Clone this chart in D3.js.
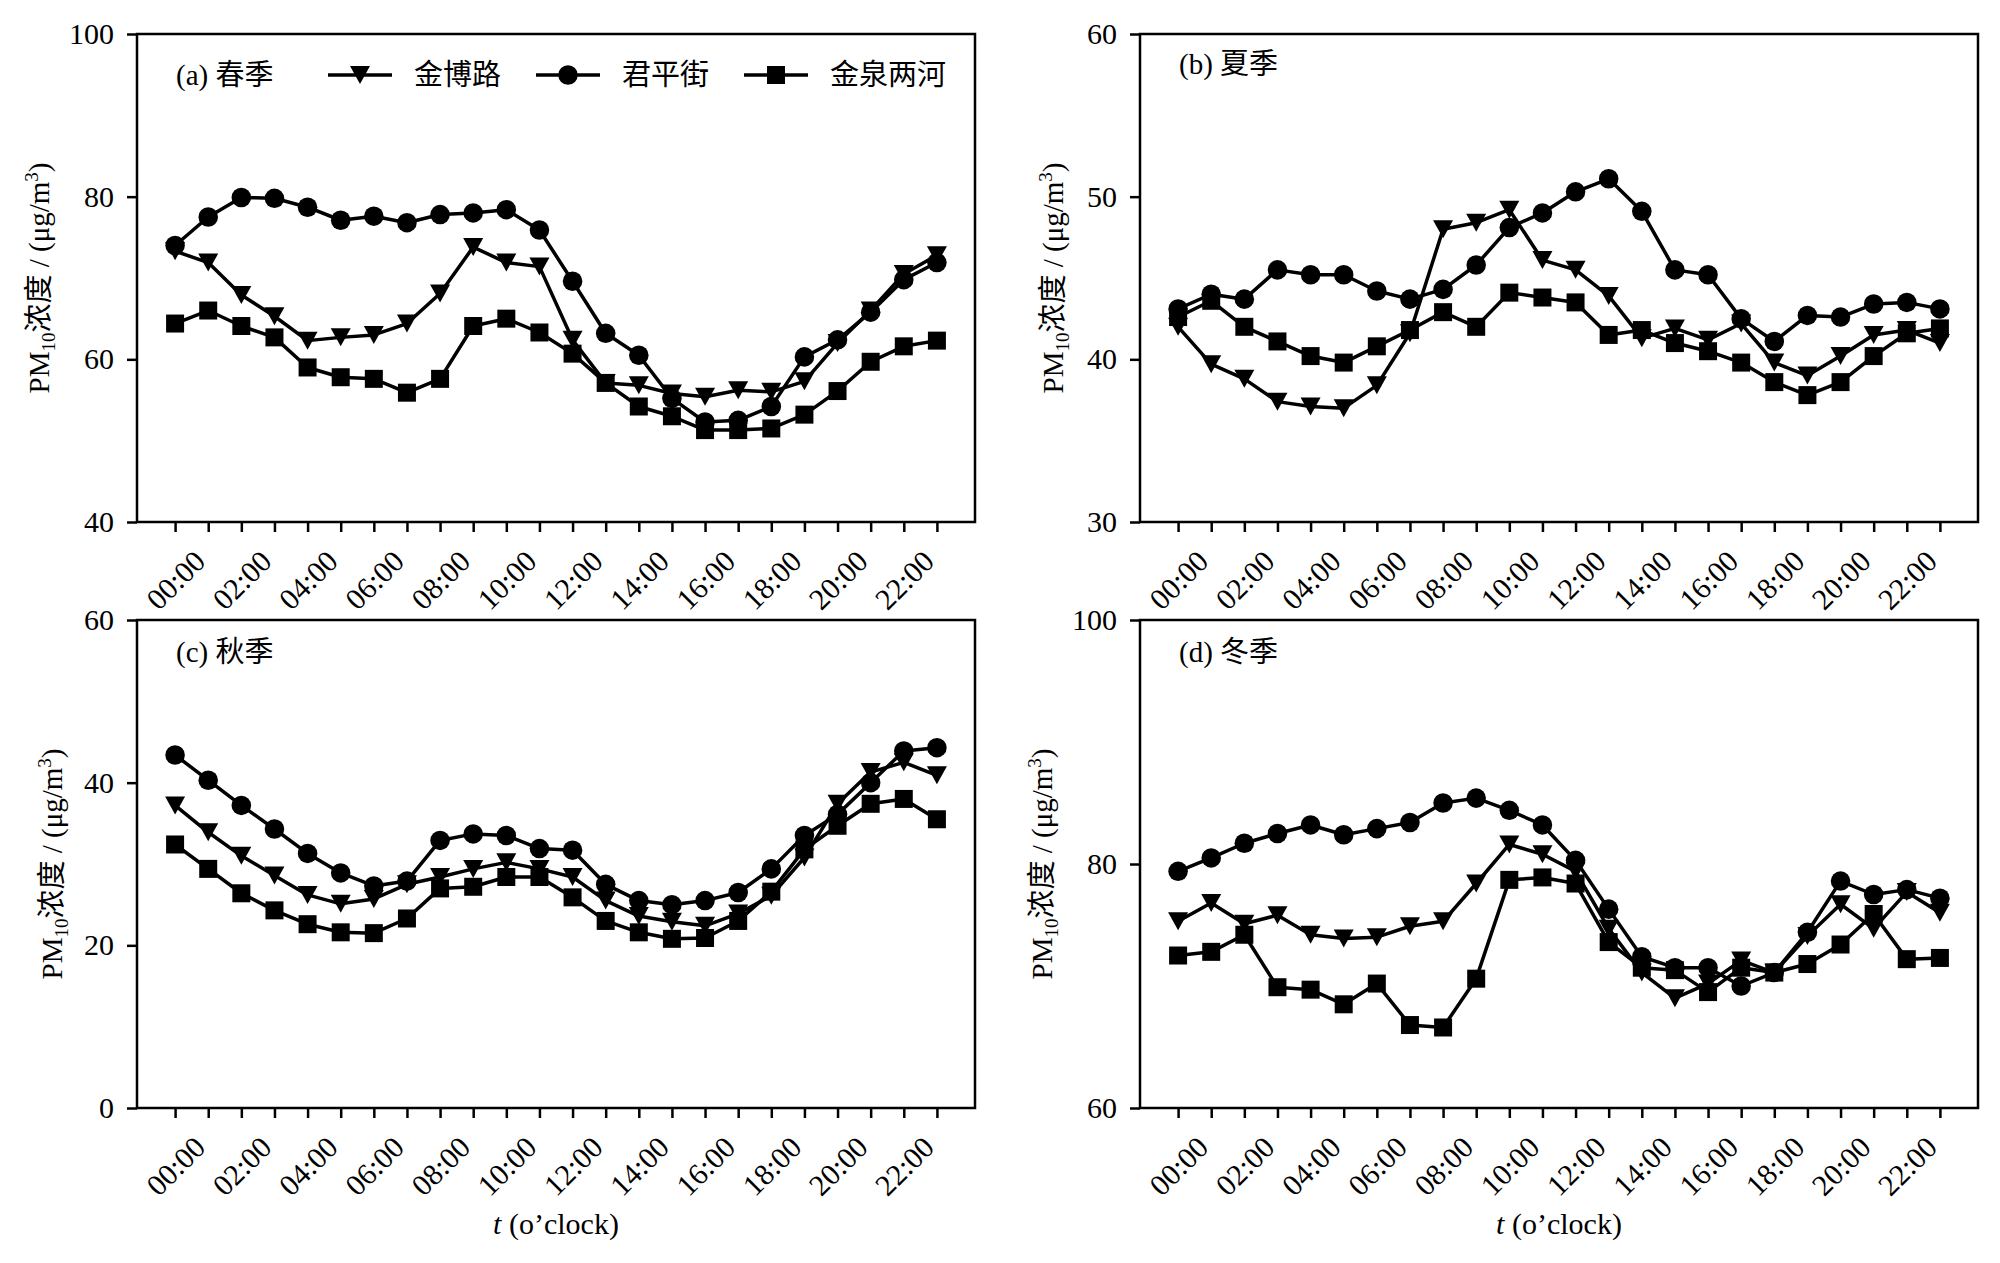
<!DOCTYPE html>
<html>
<head>
<meta charset="utf-8">
<script src="https://cdnjs.cloudflare.com/ajax/libs/d3/7.8.5/d3.min.js"></script>
<style>
  body { margin: 0; background: #fff; }
  text { font-family: "Liberation Serif", "Noto Sans CJK SC", serif; fill: #000; }
</style>
</head>
<body>
<div id="chart"></div>
<script>
// hours of the day and the labels shown under every second tick
var hours = [0, 1, 2, 3, 4, 5, 6, 7, 8, 9, 10, 11, 12, 13, 14, 15, 16, 17, 18, 19, 20, 21, 22, 23];
var tickLabels = ["00:00", "02:00", "04:00", "06:00", "08:00", "10:00",
                  "12:00", "14:00", "16:00", "18:00", "20:00", "22:00"];

var stations = ["金博路", "君平街", "金泉两河"];
var panelTitles = ["(a) 春季", "(b) 夏季", "(c) 秋季", "(d) 冬季"];
var yDomains = [[40, 100], [30, 60], [0, 60], [60, 100]];
var yTicks = [[40, 60, 80, 100], [30, 40, 50, 60], [0, 20, 40, 60], [60, 80, 100]];

// spring
var springJinbo = [73.3, 71.9, 67.9, 65.3, 62.3, 62.7, 63.0, 64.4, 68.1, 73.8, 71.9, 71.4,
                   62.4, 57.1, 56.8, 55.8, 55.4, 56.2, 56.0, 57.3, 62.0, 66.0, 70.5, 72.8];
var springJunping = [74.0, 77.5, 79.9, 79.8, 78.7, 77.1, 77.6, 76.8, 77.8, 78.0, 78.4, 75.9,
                     69.6, 63.2, 60.5, 55.2, 52.3, 52.5, 54.2, 60.3, 62.4, 65.8, 69.8, 71.9];
var springJinquan = [64.4, 66.0, 64.1, 62.7, 59.0, 57.8, 57.6, 55.9, 57.6, 64.1, 65.0, 63.3,
                     60.7, 57.1, 54.2, 53.0, 51.3, 51.3, 51.5, 53.2, 56.1, 59.7, 61.6, 62.3];
// summer
var summerJinbo = [42.0, 39.7, 38.8, 37.4, 37.1, 37.0, 38.4, 41.6, 48.0, 48.4, 49.2, 46.1,
                   45.5, 43.9, 41.3, 41.9, 41.2, 42.2, 39.8, 39.0, 40.2, 41.5, 41.8, 41.0];
var summerJunping = [43.1, 44.0, 43.7, 45.5, 45.2, 45.2, 44.2, 43.7, 44.3, 45.8, 48.1, 49.0,
                     50.3, 51.1, 49.1, 45.5, 45.2, 42.5, 41.1, 42.7, 42.6, 43.4, 43.5, 43.1];
var summerJinquan = [42.6, 43.6, 42.0, 41.1, 40.2, 39.8, 40.8, 41.8, 42.9, 42.0, 44.1, 43.8,
                     43.5, 41.5, 41.8, 41.0, 40.5, 39.8, 38.6, 37.8, 38.6, 40.2, 41.6, 41.9];
// autumn
var autumnJinbo = [37.2, 33.9, 31.0, 28.6, 26.2, 25.1, 25.7, 27.5, 28.4, 29.4, 30.2, 29.4,
                   28.4, 25.5, 23.6, 22.9, 22.4, 23.9, 26.1, 30.8, 37.4, 41.3, 42.5, 40.9];
var autumnJunping = [43.4, 40.3, 37.2, 34.3, 31.3, 28.9, 27.3, 27.9, 32.9, 33.7, 33.5, 31.9,
                     31.7, 27.5, 25.5, 25.0, 25.5, 26.5, 29.4, 33.5, 36.1, 40.0, 43.9, 44.3];
var autumnJinquan = [32.4, 29.4, 26.4, 24.3, 22.6, 21.6, 21.5, 23.3, 27.0, 27.2, 28.4, 28.4,
                     25.9, 23.0, 21.6, 20.8, 20.9, 23.0, 26.6, 31.8, 34.7, 37.4, 38.0, 35.5];
// winter
var winterJinbo = [75.3, 76.8, 75.1, 75.8, 74.2, 73.9, 74.0, 74.9, 75.3, 78.4, 81.6, 80.8,
                   79.4, 74.7, 71.1, 69.0, 70.2, 72.1, 71.1, 74.1, 76.7, 74.7, 77.7, 76.0];
var winterJunping = [79.4, 80.5, 81.7, 82.5, 83.2, 82.4, 82.9, 83.4, 85.0, 85.4, 84.4, 83.2,
                     80.3, 76.3, 72.4, 71.5, 71.5, 70.0, 71.1, 74.4, 78.6, 77.5, 77.9, 77.2];
var winterJinquan = [72.5, 72.8, 74.2, 69.9, 69.7, 68.5, 70.2, 66.8, 66.6, 70.6, 78.7, 78.9,
                     78.4, 73.6, 71.5, 71.3, 69.5, 71.5, 71.1, 71.8, 73.4, 75.9, 72.2, 72.3];

var seasons = [
    [springJinbo, springJunping, springJinquan],
    [summerJinbo, summerJunping, summerJinquan],
    [autumnJinbo, autumnJunping, autumnJinquan],
    [winterJinbo, winterJunping, winterJinquan]
];

// panel boxes in page pixels
var panels = [
    { left: 137, top: 34, showX: false, labelGap: 88, titleDy: 51 },
    { left: 1140, top: 34, showX: false, labelGap: 77, titleDy: 40 },
    { left: 137, top: 620, showX: true, labelGap: 75, titleDy: 42 },
    { left: 1140, top: 620, showX: true, labelGap: 88, titleDy: 42 }
];
var panelWidth = 838;
var panelHeight = 488;

var fontSize = 29;
var tickFont = 30;
var lineWidth = 3.5;

// marker shapes: down triangle, circle, square
var markerPaths = [
    "M-10,-9L10,-9L0,9Z",
    d3.symbol().type(d3.symbolCircle).size(300)(),
    d3.symbol().type(d3.symbolSquare).size(324)()
];

var svg = d3.select("#chart")
    .append("svg")
    .attr("width", 2000)
    .attr("height", 1263)
    .style("background", "#fff");

panels.forEach(function(p, i) {
    var g = svg.append("g")
        .attr("transform", `translate(${p.left}, ${p.top})`);

    // matplotlib style margins around the 24 hours
    var xScale = d3.scaleLinear()
        .domain([-1.15, 24.15])
        .range([0, panelWidth]);

    var yScale = d3.scaleLinear()
        .domain(yDomains[i])
        .range([panelHeight, 0]);

    // x axis
    var xAxis = d3.axisBottom(xScale)
        .tickValues(hours)
        .tickSize(10)
        .tickSizeOuter(0)
        .tickFormat(function(h) { return h % 2 === 0 ? tickLabels[h / 2] : ""; });

    var xg = g.append("g")
        .attr("transform", `translate(0, ${panelHeight})`)
        .call(xAxis);
    xg.select(".domain").remove();
    xg.selectAll("line").attr("stroke", "#000").attr("stroke-width", 2.5);
    xg.selectAll("text")
        .attr("x", 0)
        .attr("y", 0)
        .attr("dy", null)
        .attr("text-anchor", "middle")
        .attr("dominant-baseline", "central")
        .attr("transform", "translate(0, 58) rotate(-45)")
        .style("font-size", tickFont + "px")
        .style("font-family", '"Liberation Serif", serif');

    // y axis
    var yAxis = d3.axisLeft(yScale)
        .tickValues(yTicks[i])
        .tickSize(10)
        .tickSizeOuter(0)
        .tickPadding(13);

    var yg = g.append("g").call(yAxis);
    yg.select(".domain").remove();
    yg.selectAll("line").attr("stroke", "#000").attr("stroke-width", 2.5);
    yg.selectAll("text")
        .style("font-size", tickFont + "px")
        .style("font-family", '"Liberation Serif", serif');

    // frame
    g.append("rect")
        .attr("width", panelWidth)
        .attr("height", panelHeight)
        .attr("fill", "none")
        .attr("stroke", "#000")
        .attr("stroke-width", 2.5);

    // series
    var line = d3.line()
        .x(function(d, j) { return xScale(hours[j]); })
        .y(function(d) { return yScale(d); });

    seasons[i].forEach(function(values, s) {
        g.append("path")
            .datum(values)
            .attr("d", line)
            .attr("fill", "none")
            .attr("stroke", "#000")
            .attr("stroke-width", lineWidth)
            .attr("stroke-linejoin", "round");

        g.selectAll(".m" + s)
            .data(values)
            .enter()
            .append("path")
            .attr("class", "m" + s)
            .attr("d", markerPaths[s])
            .attr("transform", function(d, j) {
                return `translate(${xScale(hours[j])}, ${yScale(d)})`;
            })
            .attr("fill", "#000");
    });

    // panel title
    g.append("text")
        .attr("x", 39)
        .attr("y", p.titleDy)
        .style("font-size", fontSize + "px")
        .text(panelTitles[i]);

    // y label: PM10浓度 / (μg/m3)
    var yLabel = g.append("text")
        .attr("transform", `translate(${-p.labelGap}, ${panelHeight / 2}) rotate(-90)`)
        .attr("text-anchor", "middle")
        .style("font-size", "29px");
    yLabel.append("tspan").text("PM");
    yLabel.append("tspan").attr("dy", 6).style("font-size", "19px").text("10");
    yLabel.append("tspan").attr("dy", -6).text("浓度 / (μg/m");
    yLabel.append("tspan").attr("dy", -11).style("font-size", "19px").text("3");
    yLabel.append("tspan").attr("dy", 11).text(")");

    // x label on the bottom row
    if (p.showX) {
        var xLabel = g.append("text")
            .attr("x", panelWidth / 2)
            .attr("y", panelHeight + 126)
            .attr("text-anchor", "middle")
            .style("font-size", "30px");
        xLabel.append("tspan").style("font-style", "italic").text("t");
        xLabel.append("tspan").text(" (o\u2019clock)");
    }

    // legend sits in the spring panel
    if (i === 0) {
        var legend = g.selectAll(".legend")
            .data(stations)
            .enter()
            .append("g")
            .attr("class", "legend")
            .attr("transform", function(d, s) { return `translate(${191 + s * 208}, 41)`; });

        legend.append("line")
            .attr("x1", 0)
            .attr("x2", 64)
            .attr("stroke", "#000")
            .attr("stroke-width", lineWidth);

        legend.append("path")
            .attr("d", function(d, s) { return markerPaths[s]; })
            .attr("transform", "translate(32, 0)")
            .attr("fill", "#000");

        legend.append("text")
            .attr("x", 86)
            .attr("y", 10)
            .style("font-size", fontSize + "px")
            .text(function(d) { return d; });
    }
});
</script>
</body>
</html>
